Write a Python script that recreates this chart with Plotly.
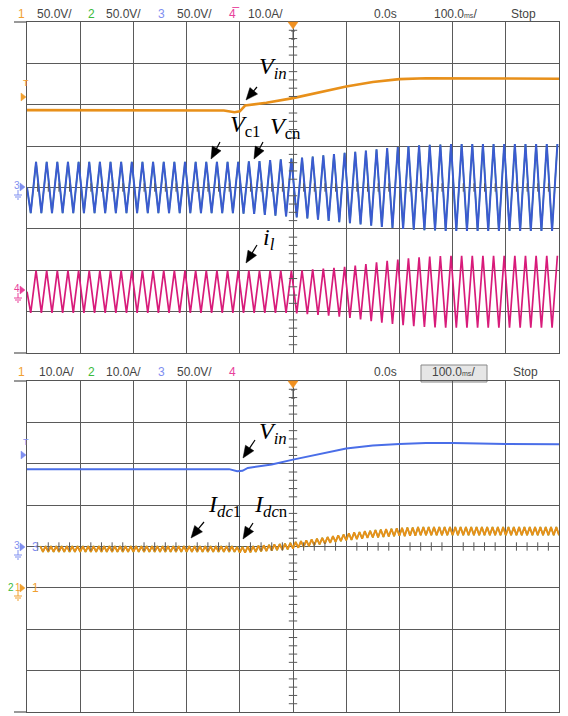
import math
import plotly.graph_objects as go

W, H = 568, 716

# ---------------- data (time in ms, 100 ms/div; amplitude in divisions) -------------
# top screen
vin_top_t = [-500, -300, -130, -110, -100, -90, -50, 0, 50, 100, 150, 200, 250, 300, 400, 500]
vin_top_v = [1.87, 1.87, 1.86, 1.82, 1.84, 1.98, 2.05, 2.16, 2.30, 2.44, 2.55, 2.62, 2.64, 2.64, 2.63, 2.63]

vc_center = 0.0
vc_amp = ([0.62] * 20 +
          [0.63, 0.64, 0.66, 0.68, 0.70, 0.72, 0.75, 0.78, 0.81, 0.84,
           0.86, 0.89, 0.92, 0.95, 0.98, 1.00, 1.02, 1.03, 1.04, 1.05] +
          [1.05] * 10)

il_center = -2.52
il_amp = ([0.51] * 25 +
          [0.52, 0.54, 0.56, 0.58, 0.60, 0.63, 0.67, 0.71, 0.75, 0.78,
           0.81, 0.83, 0.85, 0.86, 0.87] +
          [0.87] * 10)

# bottom screen
vin_bot_t = [-500, -120, -105, -95, -85, -40, 0, 50, 100, 150, 200, 250, 300, 400, 500]
vin_bot_v = [1.87, 1.87, 1.82, 1.83, 1.90, 1.98, 2.10, 2.24, 2.37, 2.44, 2.48, 2.50, 2.50, 2.48, 2.47]

idc_level = ([-0.06] * 37 +
             [-0.08, -0.08, -0.07, -0.06, -0.05, -0.04, -0.03, -0.02, -0.01, 0.0,
              0.02, 0.04, 0.06, 0.08, 0.10, 0.12, 0.14, 0.16, 0.18, 0.20,
              0.22, 0.24, 0.26, 0.27, 0.29, 0.30, 0.31, 0.32, 0.33, 0.34,
              0.35, 0.35, 0.36, 0.36, 0.37] +
             [0.37] * 26)
idc_rip = [0.07] * 58 + [0.08] * 5 + [0.09] * 5 + [0.10] * 30

top_header = [("1", "ch1"), ("50.0V/", "txt"), ("2", "ch2"), ("50.0V/", "txt"),
              ("3", "ch3"), ("50.0V/", "txt"), ("4\u0305", "ch4"), ("10.0A/", "txt"),
              ("0.0s", "txt"), ("100.0<span style='font-size:7px'>ms</span>/", "txt"), ("Stop", "txt")]
bot_header = [("1", "ch1"), ("10.0A/", "txt"), ("2", "ch2"), ("10.0A/", "txt"),
              ("3", "ch3"), ("50.0V/", "txt"), ("4", "ch4"),
              ("0.0s", "txt"), ("100.0<span style='font-size:7px'>ms</span>/", "txt"), ("Stop", "txt")]

# ---------------- styling ----------------
C = {"ch1": "#f0a030", "ch2": "#3cba3c", "ch3": "#7f8ff0", "ch4": "#e8409a", "txt": "#444444"}
ORANGE = "#e8901a"
BLUE_W = "#3b5bd0"
BLUE_V = "#4a6ee8"
PINK = "#d81b7a"
GREEN = "#3cb043"
GRID = "#5a5a5a"


def zigzag(t0, half, centers, amps, first_sign, start=None):
    xs, ys = [], []
    if start is not None:
        xs.append(start[0]); ys.append(start[1])
    for k, (c, a) in enumerate(zip(centers, amps)):
        t = t0 + 2 * half * k
        xs += [t, t + half]
        ys += [c + first_sign * a, c - first_sign * a]
    return xs, ys


fig = go.Figure()

# top screen traces
x, y = zigzag(-493, 10, [vc_center] * len(vc_amp), vc_amp, -1, start=(-500, vc_center))
fig.add_trace(go.Scatter(x=x, y=y, mode="lines", line=dict(color=GREEN, width=1.4), xaxis="x", yaxis="y"))
fig.add_trace(go.Scatter(x=x, y=y, mode="lines", line=dict(color=BLUE_W, width=2.0), xaxis="x", yaxis="y"))
x, y = zigzag(-493, 10, [il_center] * len(il_amp), il_amp, -1, start=(-500, il_center))
fig.add_trace(go.Scatter(x=x, y=y, mode="lines", line=dict(color=PINK, width=1.7), xaxis="x", yaxis="y"))
fig.add_trace(go.Scatter(x=vin_top_t, y=vin_top_v, mode="lines", line=dict(color=ORANGE, width=2.6),
                         xaxis="x", yaxis="y"))

# bottom screen traces
fig.add_trace(go.Scatter(x=vin_bot_t, y=vin_bot_v, mode="lines", line=dict(color=BLUE_V, width=2.0),
                         xaxis="x2", yaxis="y2"))
x, y = zigzag(-475, 5, idc_level, idc_rip, 1)
fig.add_trace(go.Scatter(x=x, y=y, mode="lines", line=dict(color=GREEN, width=1.4), xaxis="x2", yaxis="y2"))
fig.add_trace(go.Scatter(x=x, y=y, mode="lines", line=dict(color=ORANGE, width=1.9), xaxis="x2", yaxis="y2"))

# centre-axis minor ticks (graticule decoration)
minor_y = [k / 5 for k in range(-20, 21) if k % 5]
minor_x = [k * 20 for k in range(-25, 26) if k % 5]
for xa, ya in (("x", "y"), ("x2", "y2")):
    fig.add_trace(go.Scatter(x=[0] * len(minor_y), y=minor_y, mode="markers", xaxis=xa, yaxis=ya,
                             marker=dict(symbol="line-ew", size=6, line=dict(color=GRID, width=1))))
    fig.add_trace(go.Scatter(x=minor_x, y=[0] * len(minor_x), mode="markers", xaxis=xa, yaxis=ya,
                             marker=dict(symbol="line-ns", size=6, line=dict(color=GRID, width=1))))

ax_common = dict(range=[-500, 500], dtick=100, tick0=0, showgrid=True, gridcolor=GRID, gridwidth=1,
                 showline=True, linecolor="#555555", linewidth=1, mirror=True, showticklabels=False,
                 zeroline=False, ticks="", fixedrange=True, domain=[27 / W, 559 / W])
ay_common = dict(range=[-4, 4], dtick=1, tick0=0, showgrid=True, gridcolor=GRID, gridwidth=1,
                 showline=True, linecolor="#555555", linewidth=1, mirror=True, showticklabels=False,
                 zeroline=False, ticks="", fixedrange=True)


def P(px, py):
    return px / W, 1 - py / H


annotations = []
shapes = []


def text(px, py, s, color="#444444", size=12, family="Liberation Sans", xanchor="left"):
    xx, yy = P(px, py)
    annotations.append(dict(x=xx, y=yy, xref="paper", yref="paper", text=s, showarrow=False,
                            xanchor=xanchor, yanchor="middle",
                            font=dict(color=color, size=size, family=family)))


def line(x0, y0, x1, y1, color="#555555", width=1):
    a, b = P(x0, y0)
    c, d = P(x1, y1)
    shapes.append(dict(type="line", xref="paper", yref="paper", x0=a, y0=b, x1=c, y1=d,
                       line=dict(color=color, width=width)))


def poly(points, color):
    path = "M " + " L ".join(f"{P(a, b)[0]},{P(a, b)[1]}" for a, b in points) + " Z"
    shapes.append(dict(type="path", xref="paper", yref="paper", path=path,
                       fillcolor=color, line=dict(color=color, width=0.5)))


def arrow(hx, hy, dx, dy, L=12, hw=5.0):
    tx, ty = hx + dx, hy + dy
    n = math.hypot(dx, dy)
    ux, uy = -dx / n, -dy / n          # unit vector tail -> head
    bx, by = hx - ux * L, hy - uy * L  # base centre of head
    px_, py_ = -uy, ux
    line(tx, ty, bx + ux * 1, by + uy * 1, "black", 1.2)
    poly([(hx, hy), (bx + px_ * hw, by + py_ * hw), (bx - px_ * hw, by - py_ * hw)], "black")


def ground(xc, yt, color):
    line(xc, yt, xc, yt + 5, color)
    line(xc - 4, yt + 5, xc + 4, yt + 5, color)
    line(xc - 3, yt + 7, xc + 3, yt + 7, color)
    line(xc - 1, yt + 9, xc + 1, yt + 9, color)


# headers
top_x = [16, 35, 86, 104, 156, 175, 227, 246, 372, 432, 509]
for (s, c), px in zip(top_header, top_x):
    text(px, 14, s, C[c])
bot_x = [16, 37, 86, 104, 156, 175, 227, 372, 430, 511]
for (s, c), px in zip(bot_header, bot_x):
    text(px, 372, s, C[c])
a0, b0 = P(421, 365)
a1, b1 = P(487, 382)
shapes.append(dict(type="rect", xref="paper", yref="paper", x0=a0, y0=b0, x1=a1, y1=b1,
                   fillcolor="#e6e6e6", line=dict(color="#888888", width=1), layer="below"))

# border extensions on the left
for yy in (22, 353, 381, 712):
    line(14, yy, 27, yy, "#555555", 1.2)

# trigger position markers
for yt in (22, 381):
    poly([(288, yt), (298, yt), (293, yt + 7)], "#f09020")
    line(293, yt + 8, 293, yt + 18, "#555555")
    line(291, yt + 9, 295, yt + 9, "#555555")
    line(291, yt + 17, 295, yt + 17, "#555555")

# left channel markers - top
text(21, 83, "T", C["ch1"], size=9)
poly([(21, 93), (21, 101), (26, 97)], C["ch1"])
text(12, 185, "3", C["ch3"], size=10)
poly([(20, 183), (20, 191), (25, 187)], C["ch3"])
ground(18, 190, C["ch3"])
text(12, 288, "4", C["ch4"], size=10)
poly([(20, 286), (20, 294), (25, 290)], C["ch4"])
ground(18, 293, C["ch4"])
# left channel markers - bottom
text(21, 442, "T", C["ch3"], size=9)
poly([(21, 451), (21, 459), (26, 455)], C["ch3"])
text(12, 545, "3", C["ch3"], size=10)
poly([(20, 543), (20, 551), (25, 547)], C["ch3"])
ground(18, 550, C["ch3"])
text(30, 547, "3", C["ch3"], size=12)
text(6, 587, "2", C["ch2"], size=10)
text(13, 587, "1", C["ch1"], size=10)
poly([(20, 584), (20, 592), (25, 588)], C["ch1"])
ground(18, 591, C["ch1"])
text(30, 588, "1", C["ch1"], size=12)

# labels and arrows
SERIF = "Liberation Serif"
text(257, 68, "<i>V</i><sub><i>in</i></sub>", "black", 24, SERIF)
arrow(246, 100, 11, -13)
text(228, 126, "<i>V</i><sub>c1</sub>", "black", 24, SERIF)
arrow(211, 159, 9, -17)
text(268, 128, "<i>V</i><sub>cn</sub>", "black", 24, SERIF)
arrow(254, 159, 9, -17)
text(261, 239, "<i>i</i><sub><i>l</i></sub>", "black", 24, SERIF)
arrow(246, 263, 11, -18)
text(257, 433, "<i>V</i><sub><i>in</i></sub>", "black", 24, SERIF)
arrow(243, 458, 12, -18)
text(206, 506, "<i>I</i><sub><i>dc</i>1</sub>", "black", 24, SERIF)
arrow(191, 538, 13, -16)
text(252, 506, "<i>I</i><sub><i>dc</i>n</sub>", "black", 24, SERIF)
arrow(243, 539, 10, -16)

fig.update_layout(
    width=W, height=H, margin=dict(l=0, r=0, t=0, b=0),
    paper_bgcolor="white", plot_bgcolor="white", showlegend=False,
    xaxis=dict(anchor="y", **ax_common),
    yaxis=dict(anchor="x", domain=[1 - 353 / H, 1 - 22 / H], **ay_common),
    xaxis2=dict(anchor="y2", **ax_common),
    yaxis2=dict(anchor="x2", domain=[1 - 712 / H, 1 - 381 / H], **ay_common),
    annotations=annotations, shapes=shapes,
)

fig.write_html("out.html")
